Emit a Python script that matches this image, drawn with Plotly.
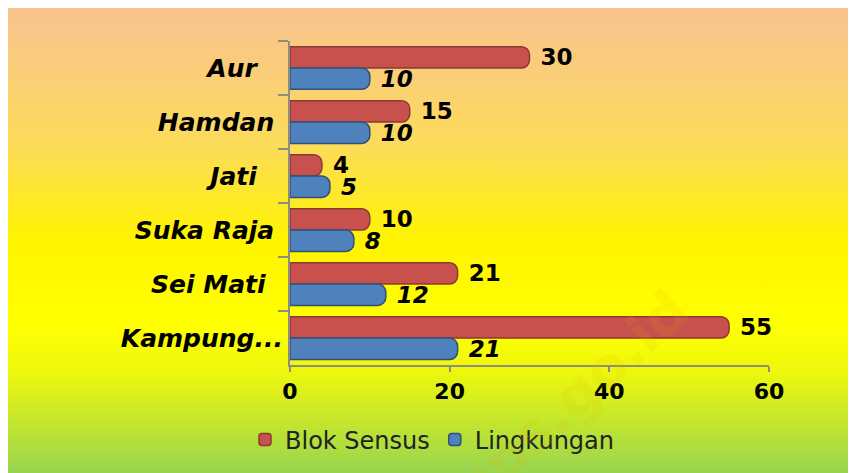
import plotly.graph_objects as go

# data (top to bottom)
categories = ["Aur", "Hamdan", "Jati", "Suka Raja", "Sei Mati", "Kampung..."]
tick_labels = ["Aur\u00a0\u00a0\u00a0", "Hamdan\u00a0", "Jati\u00a0\u00a0\u00a0",
               "Suka Raja\u00a0", "Sei Mati\u00a0\u00a0", "Kampung..."]
blok_sensus = [30, 15, 4, 10, 21, 55]
lingkungan = [10, 10, 5, 8, 12, 21]
x_ticks = [0, 20, 40, 60]

RED = "#C8504D"
BLUE = "#4F81BD"
GRID = "#8E8E80"
FONT = "DejaVu Sans"

fig = go.Figure()

# background gradient (orange -> yellow -> green), on its own full-page subplot
fig.add_trace(go.Scatter(
    x=[0, 1, 1, 0, 0], y=[0, 0, 1, 1, 0],
    mode="lines", line=dict(width=0), fill="toself",
    fillgradient=dict(type="vertical", colorscale=[
        [0.0, "#98D450"], [0.12, "#C8E82A"], [0.22, "#EEF80C"], [0.32, "#FFFF00"],
        [0.5, "#FFF400"], [0.7, "#FCDC58"], [0.88, "#FACC7C"], [1.0, "#F8C38E"]]),
    hoverinfo="skip", showlegend=False, xaxis="x", yaxis="y",
))

fig.add_trace(go.Bar(
    name="Blok Sensus", y=categories, x=blok_sensus, orientation="h",
    marker=dict(color=RED, line=dict(color="#8C3836", width=1.5)),
    text=blok_sensus, texttemplate="\u00a0%{x}", textposition="outside",
    constraintext="none",
    textfont=dict(family=FONT, size=23, color="black", weight="bold"),
    cliponaxis=False, xaxis="x2", yaxis="y2",
))
fig.add_trace(go.Bar(
    name="Lingkungan", y=categories, x=lingkungan, orientation="h",
    marker=dict(color=BLUE, line=dict(color="#30507A", width=1.5)),
    text=lingkungan, texttemplate="\u00a0%{x}", textposition="outside",
    constraintext="none",
    textfont=dict(family=FONT, size=23, color="black", weight="bold", style="italic"),
    cliponaxis=False, xaxis="x2", yaxis="y2",
))

# 3D-ish back wall grid lines, shifted right/up from the front ticks
shapes = []
shift = 2.0
floor_back, floor_front = 0.254, 0.232
for v in x_ticks:
    shapes.append(dict(type="line", xref="x2", yref="paper", x0=v + shift, x1=v + shift,
                       y0=floor_back, y1=0.9376, line=dict(color=GRID, width=2), layer="below"))
    shapes.append(dict(type="line", xref="x2", yref="paper", x0=v + shift, x1=v,
                       y0=floor_back, y1=floor_front, line=dict(color=GRID, width=2), layer="below"))
shapes.append(dict(type="line", xref="x2", yref="paper", x0=0 + shift, x1=60 + shift,
                   y0=floor_back, y1=floor_back, line=dict(color=GRID, width=1.5), layer="below"))

fig.update_layout(
    width=848, height=465,
    margin=dict(l=0, r=0, t=0, b=0, autoexpand=False),
    paper_bgcolor="#FFFF00", plot_bgcolor="rgba(0,0,0,0)",
    barmode="group", bargap=0.21, bargroupgap=0.0, barcornerradius=8,
    xaxis=dict(domain=[0, 1], range=[0, 1], visible=False, fixedrange=True),
    yaxis=dict(domain=[0, 1], range=[0, 1], visible=False, fixedrange=True),
    xaxis2=dict(domain=[0.3325, 0.8974], range=[0, 60], anchor="y2",
                tickvals=x_ticks, showgrid=False, zeroline=False,
                showline=True, linecolor=GRID, linewidth=2,
                ticks="outside", ticklen=5, tickcolor=GRID, tickwidth=2,
                ticklabelstandoff=0,
                tickfont=dict(family=FONT, size=22, color="black", weight="bold")),
    yaxis2=dict(domain=[0.232, 0.929], anchor="x2", autorange="reversed",
                categoryorder="array", categoryarray=categories,
                tickvals=categories, ticktext=tick_labels,
                showline=True, linecolor=GRID, linewidth=2,
                ticks="outside", ticklen=10, tickcolor=GRID, tickwidth=2,
                tickson="boundaries", showgrid=False,
                tickfont=dict(family=FONT, size=25, color="black",
                              weight="bold", style="italic")),
    legend=dict(orientation="h", x=0.5, xanchor="center", y=0.071, yanchor="middle",
                font=dict(family=FONT, size=24, color="#222222"),
                bgcolor="rgba(0,0,0,0)", itemwidth=30, tracegroupgap=0),
    shapes=shapes,
    annotations=[dict(text="bps.go.id", xref="paper", yref="paper", x=0.664, y=0.157,
                      xanchor="center", yanchor="middle",
                      showarrow=False, textangle=-42,
                      font=dict(family=FONT, size=56, color="rgba(225,180,0,0.12)",
                                weight="bold"))],
)

fig.write_html("out.html")
